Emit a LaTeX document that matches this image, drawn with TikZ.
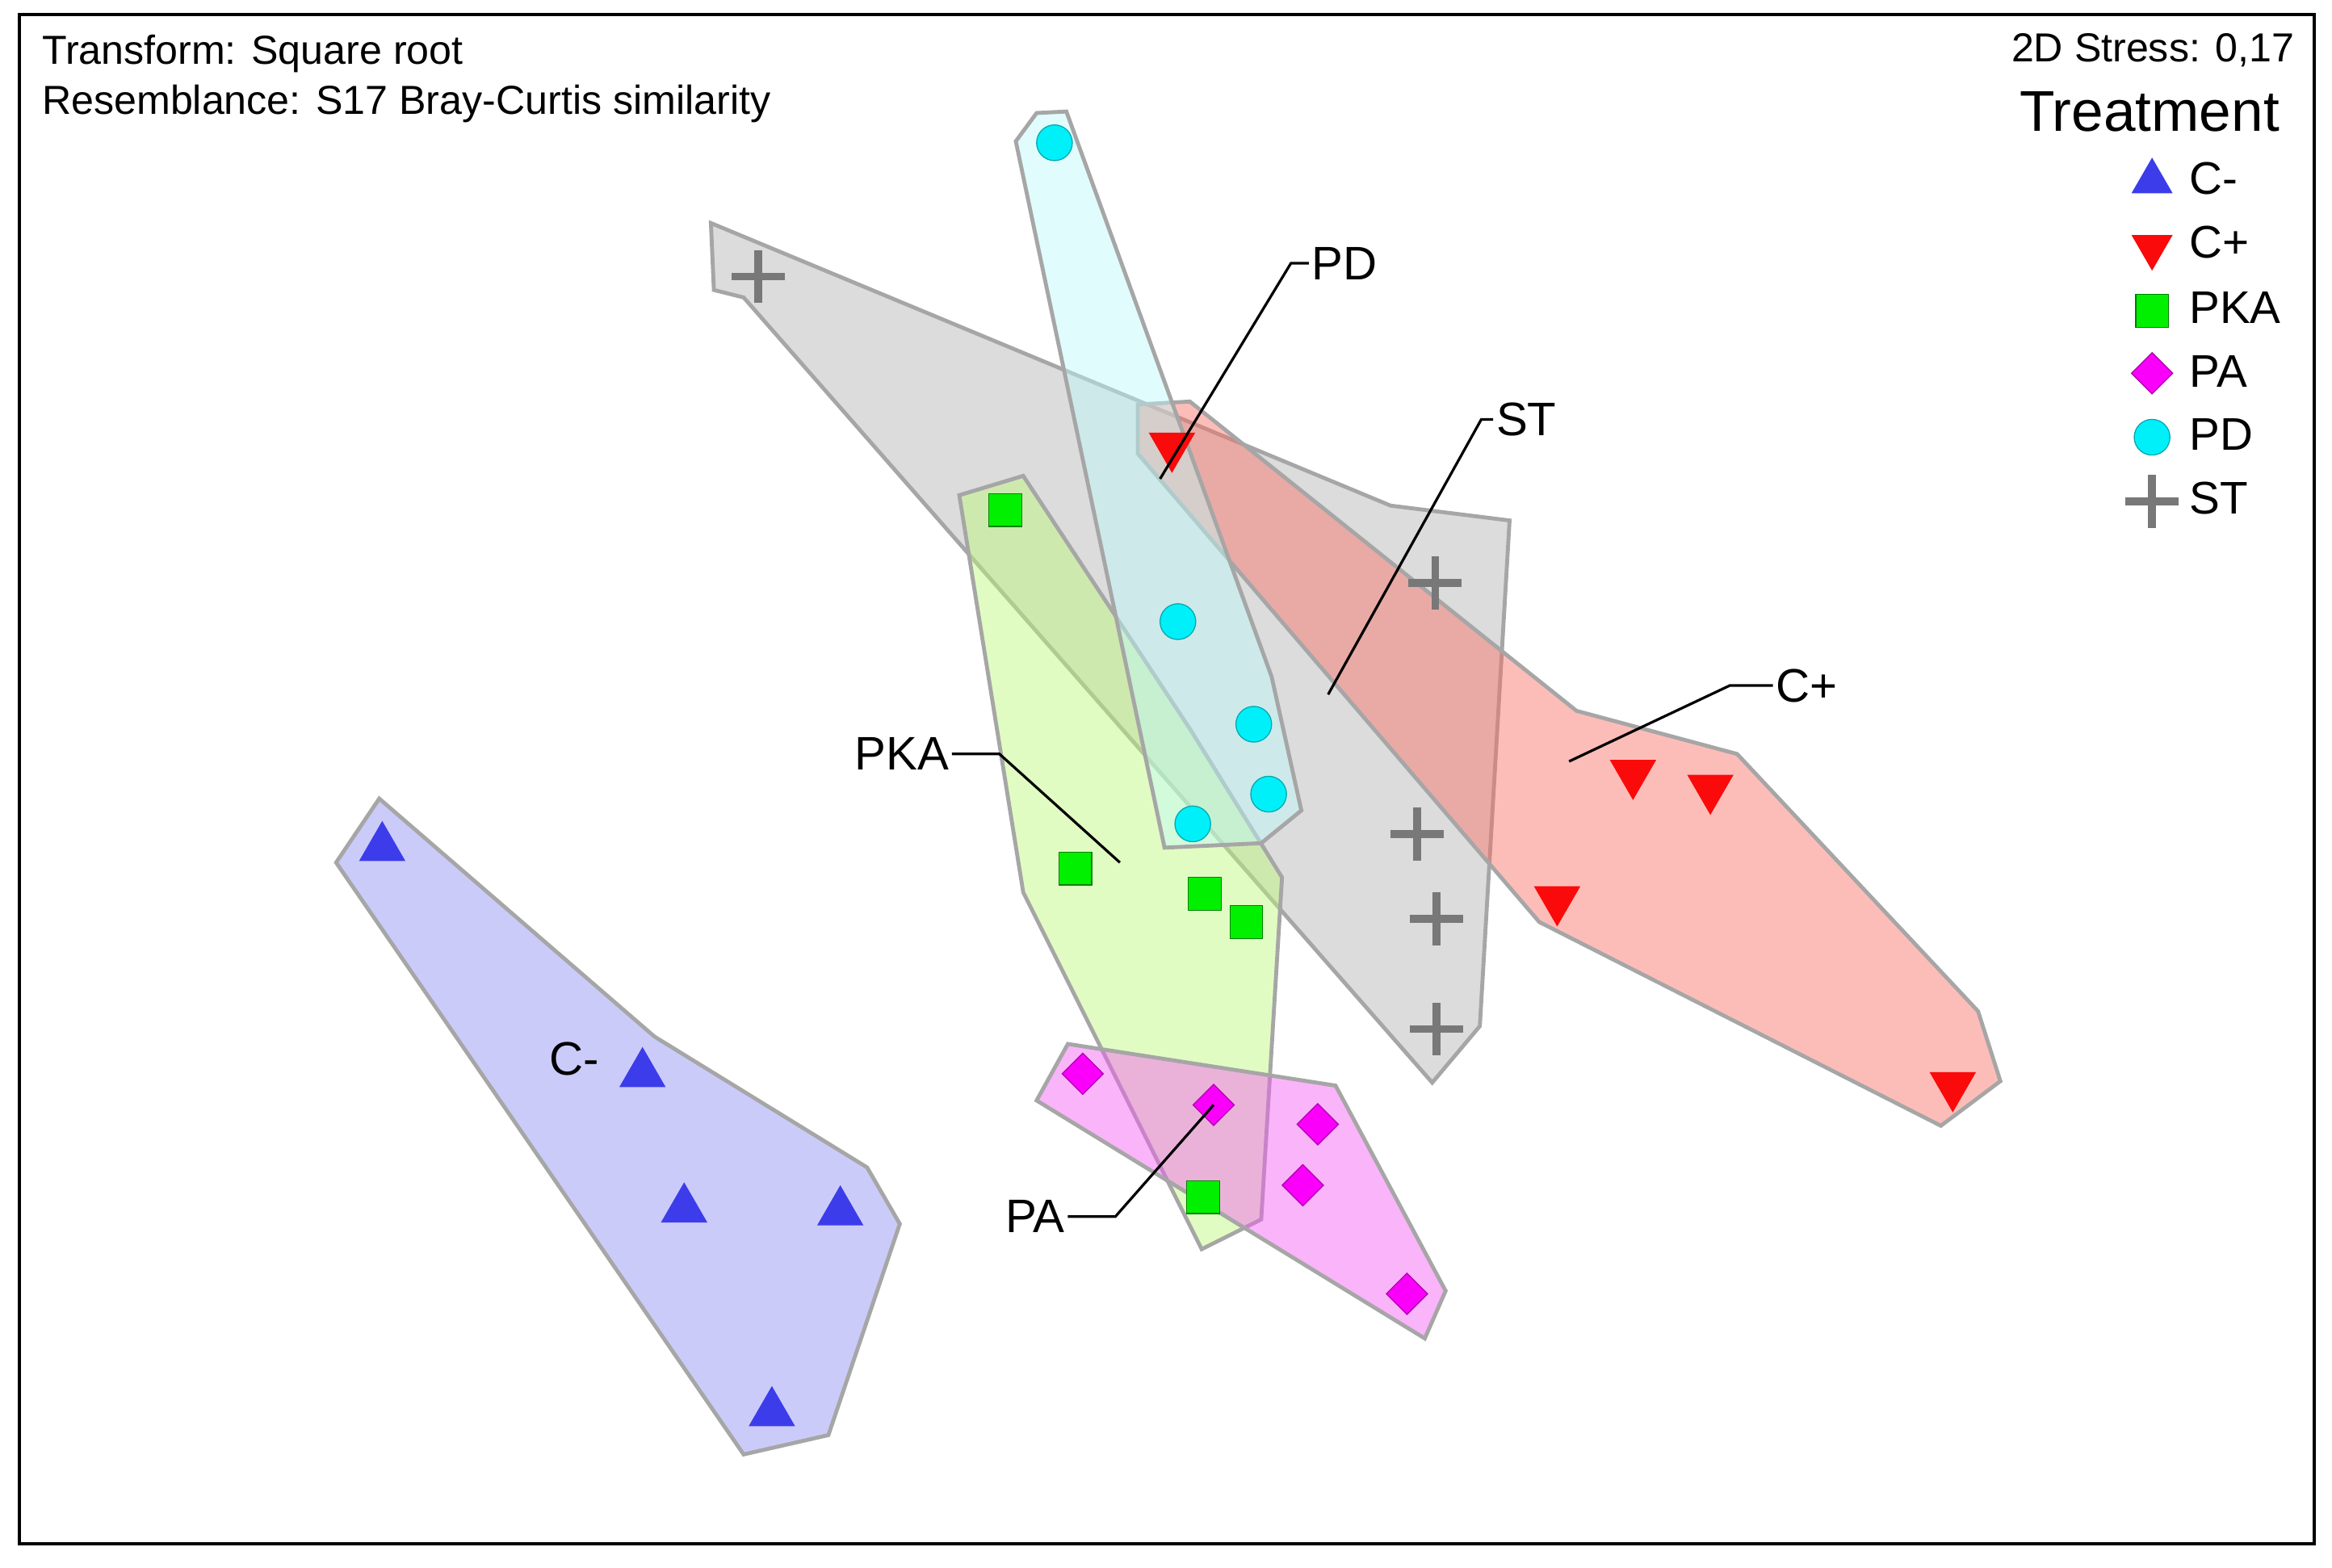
\documentclass[tikz,border=0pt]{standalone}
\usepackage{fontspec}
\setmainfont{Liberation Sans}
\usetikzlibrary{shapes.geometric,shapes.misc}
\definecolor{mblue}{RGB}{60,60,235}
\definecolor{mred}{RGB}{250,10,10}
\definecolor{mgreen}{RGB}{0,240,0}
\definecolor{mmag}{RGB}{250,0,250}
\definecolor{mcyan}{RGB}{0,240,250}
\definecolor{mgray}{RGB}{120,120,120}
\tikzset{
 hull/.style={draw=black!35, line width=1.5pt, fill opacity=0.45},
 up/.style={regular polygon, regular polygon sides=3, fill=mblue, inner sep=0pt, minimum size=36*0.02cm},
 dn/.style={regular polygon, regular polygon sides=3, shape border rotate=180, fill=mred, inner sep=0pt, minimum size=36*0.02cm},
 sq/.style={rectangle, fill=mgreen, draw=green!50!black, line width=0.4pt, inner sep=0pt, minimum size=22*0.02cm},
 dia/.style={diamond, fill=mmag, draw=mmag!70!black, line width=0.4pt, inner sep=0pt, minimum size=28*0.02cm},
 cir/.style={circle, fill=mcyan, draw=mcyan!70!black, line width=0.4pt, inner sep=0pt, minimum size=24*0.02cm},
 pl/.style={cross out, rotate=45, draw=mgray, line width=3pt, inner sep=0pt, minimum size=20*0.02cm},
 lab/.style={font=\fontsize{18}{20}\selectfont, inner sep=1pt},
 leg/.style={anchor=west, font=\fontsize{17.5}{19}\selectfont, inner sep=1pt},
 hdr/.style={font=\fontsize{15.5}{17}\selectfont, inner sep=0pt},
 lead/.style={line width=1pt},
}
\begin{document}
\begin{tikzpicture}[x=0.02cm,y=-0.02cm]
\useasboundingbox (0,0) rectangle (1568,1054);
\fill[white] (0,0) rectangle (1568,1054);
\draw[line width=1.2pt] (13,10) rectangle (1556,1038);
% hulls
\filldraw[hull, fill={rgb,255:red,140;green,140;blue,245}] (226,580)--(255,537)--(440,697)--(583,785)--(605,823)--(557,965)--(500,978)--cycle;
\filldraw[hull, fill=black!30] (478,150)--(935,340)--(1015,350)--(995,690)--(963,728)--(500,200)--(480,195)--cycle;
\filldraw[hull, fill={rgb,255:red,250;green,110;blue,100}] (765,272)--(800,270)--(1060,478)--(1168,507)--(1330,680)--(1345,727)--(1305,757)--(1035,620)--(765,305)--cycle;
\filldraw[hull, fill={rgb,255:red,190;green,250;blue,120}] (645,333)--(688,320)--(800,490)--(862,590)--(848,820)--(808,840)--(688,600)--cycle;
\filldraw[hull, fill={rgb,255:red,190;green,250;blue,250}] (683,95)--(697,76)--(717,75)--(855,455)--(875,545)--(848,567)--(783,570)--cycle;
\filldraw[hull, fill={rgb,255:red,245;green,90;blue,245}] (697,740)--(718,702)--(898,730)--(972,868)--(958,900)--cycle;
% markers
\foreach \x/\y [count=\i] in {257/570,432/722,460/813,565/815,519/950} \node[up] (cm\i) at (\x,\y) {};
\foreach \x/\y [count=\i] in {788/300,1098/520,1150/530,1047/605,1313/730} \node[dn] (cp\i) at (\x,\y) {};
\foreach \x/\y [count=\i] in {676/343,723/584,810/601,838/620,809/805} \node[sq] (pka\i) at (\x,\y) {};
\foreach \x/\y [count=\i] in {728/722,816/743,886/756,876/797,946/870} \node[dia] (pa\i) at (\x,\y) {};
\foreach \x/\y [count=\i] in {709/96,792/418,843/487,853/534,802/554} \node[cir] (pd\i) at (\x,\y) {};
\foreach \x/\y [count=\i] in {510/186,965/392,953/561,966/618,966/692} \node[pl] (st\i) at (\x,\y) {};
% group labels with leaders
\node[lab, anchor=west] (lPD) at (880,177) {PD};
\coordinate (aPD) at (780,322); \coordinate (kPD) at (868,177);
\draw[lead] (aPD)--(kPD)--(lPD.west);
\node[lab, anchor=west] (lST) at (1004,282) {ST};
\coordinate (aST) at (893,467); \coordinate (kST) at (996,282);
\draw[lead] (aST)--(kST)--(lST.west);
\node[lab, anchor=west] (lCp) at (1192,461) {C+};
\coordinate (aCp) at (1055,512); \coordinate (kCp) at (1163,461);
\draw[lead] (aCp)--(kCp)--(lCp.west);
\node[lab, anchor=east] (lPKA) at (640,507) {PKA};
\coordinate (aPKA) at (753,580); \coordinate (kPKA) at (672,507);
\draw[lead] (aPKA)--(kPKA)--(lPKA.east);
\node[lab, anchor=east] (lPA) at (718,818) {PA};
\coordinate (kPA) at (750,818);
\draw[lead] (pa2.center)--(kPA)--(lPA.east);
\node[lab] (lCm) at (386,712) {C-};
% header texts
\node[hdr, anchor=west] (t1) at (28,36) {Transform: Square root};
\node[hdr, anchor=west] (t2) at (28,70) {Resemblance: S17 Bray-Curtis similarity};
\node[hdr, anchor=east] (t3) at (1543,34) {2D Stress: 0,17};
\node[anchor=east, font=\fontsize{22}{24}\selectfont, inner sep=0pt] (t4) at (1533,75) {Treatment};
% legend
\node[up, minimum size=32*0.02cm] (L1) at (1447,122) {}; \node[leg] (LT1) at (1470,120) {C-};
\node[dn, minimum size=32*0.02cm] (L2) at (1447,166) {}; \node[leg] (LT2) at (1470,163) {C+};
\node[sq] (L3) at (1447,209) {}; \node[leg] (LT3) at (1470,207) {PKA};
\node[dia] (L4) at (1447,251) {}; \node[leg] (LT4) at (1470,250) {PA};
\node[cir] (L5) at (1447,294) {}; \node[leg] (LT5) at (1470,292) {PD};
\node[pl] (L6) at (1447,337) {}; \node[leg] (LT6) at (1470,335) {ST};
\end{tikzpicture}
\end{document}
